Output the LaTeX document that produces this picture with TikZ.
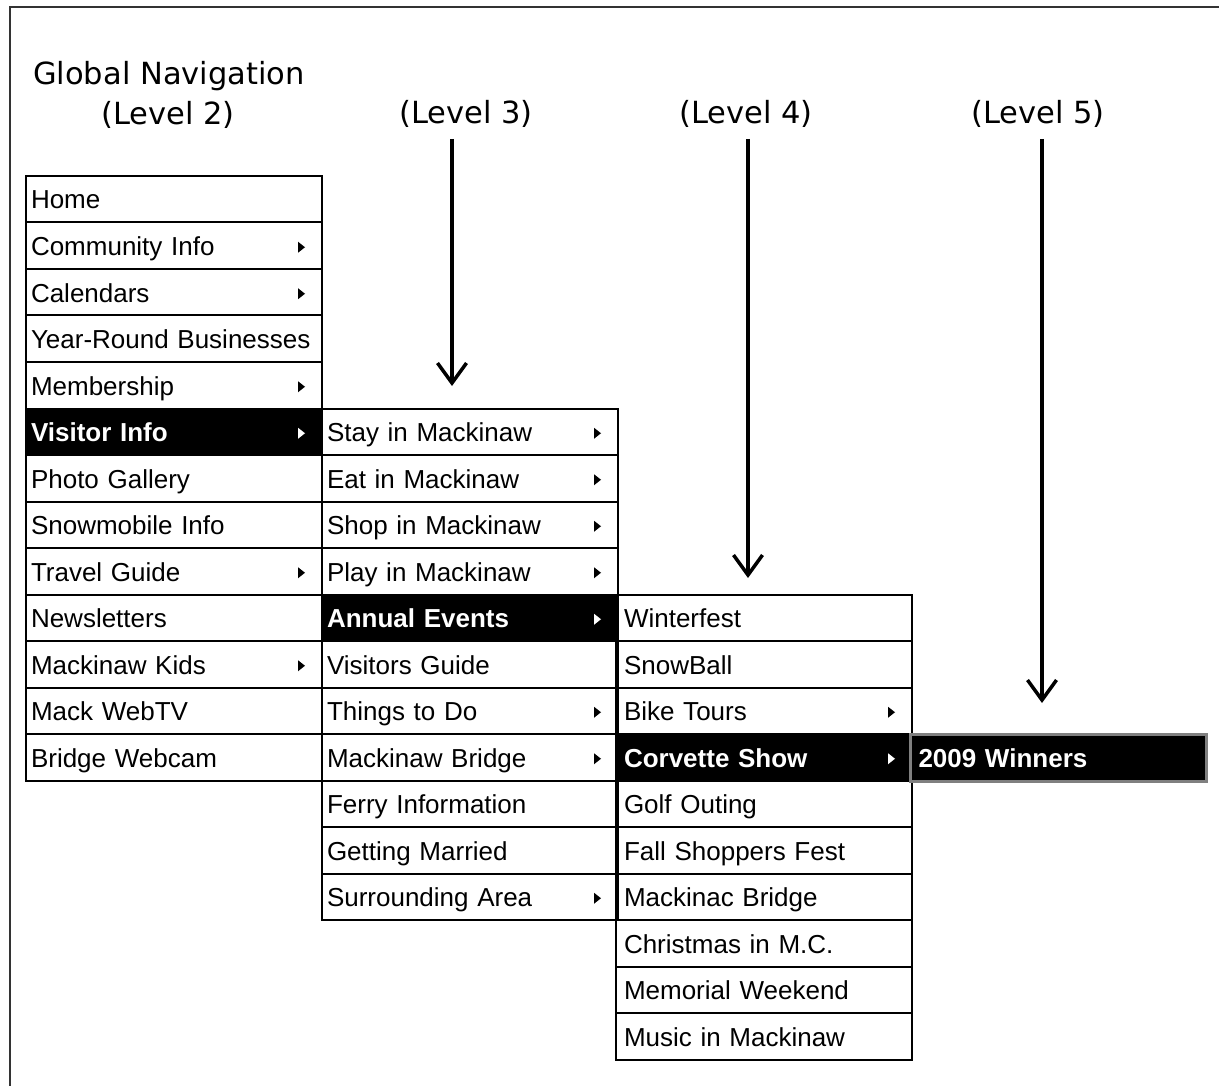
\documentclass[tikz,border=0pt]{standalone}
\usepackage{fontspec}
\setmainfont{Liberation Sans}
\newfontfamily\labfont{DejaVu Sans}
\usetikzlibrary{arrows.meta}
\begin{document}
\begin{tikzpicture}[x=1pt,y=-1pt,
  cell/.style={draw=black, line width=2pt, rectangle, anchor=north west,
    minimum width=296pt, minimum height=46.5pt, inner xsep=5pt, inner ysep=0pt,
    text width=286pt, align=left, text height=21pt, text depth=1.5pt,
    font=\fontsize{26}{30}\selectfont},
  cellc/.style={cell, inner xsep=8pt, text width=280pt},
  hot/.style={fill=black, text=white, font=\fontsize{26}{30}\selectfont\bfseries},
  lvl/.style={font=\labfont\fontsize{30.5}{36}\selectfont, inner sep=0pt, anchor=base},
  levarrow/.style={line width=4pt, -{Straight Barb[length=20pt,width=29pt,line width=3.5pt]}}
]
\useasboundingbox (0,0) rectangle (1219,1086);
\fill[white] (0,0) rectangle (1219,1086);
% frame
\draw[line width=1.5pt, black!80] (1219,7) -- (10,7) -- (10,1086);

% headings
\node[lvl, anchor=base west] (gn) at (33,85) {Global Navigation};
\node[lvl] (l2) at (168,125) {(Level 2)};
\node[lvl] (l3) at (466,124) {(Level 3)};
\node[lvl] (l4) at (746,124) {(Level 4)};
\node[lvl] (l5) at (1038,124) {(Level 5)};

% arrows
\coordinate (a3s) at (452,139); \coordinate (a3e) at (452,386);
\coordinate (a4s) at (748,139); \coordinate (a4e) at (748,578);
\coordinate (a5s) at (1042,139); \coordinate (a5e) at (1042,703);
\draw[levarrow] (a3s) -- (a3e);
\draw[levarrow] (a4s) -- (a4e);
\draw[levarrow] (a5s) -- (a5e);

% Level 2 column
\node[cell] (c1a) at (25,175.0) {Home};
\node[cell] (c1b) at (25,221.5) {Community Info};
\node[cell] (c1c) at (25,268.0) {Calendars};
\node[cell] (c1d) at (25,314.5) {Year-Round Businesses};
\node[cell] (c1e) at (25,361.0) {Membership};
\node[cell,hot] (c1f) at (25,407.5) {Visitor Info};
\node[cell] (c1g) at (25,454.0) {Photo Gallery};
\node[cell] (c1h) at (25,500.5) {Snowmobile Info};
\node[cell] (c1i) at (25,547.0) {Travel Guide};
\node[cell] (c1j) at (25,593.5) {Newsletters};
\node[cell] (c1k) at (25,640.0) {Mackinaw Kids};
\node[cell] (c1l) at (25,686.5) {Mack WebTV};
\node[cell] (c1m) at (25,733.0) {Bridge Webcam};

% Level 3 column
\node[cell] (c2a) at (321,407.5) {Stay in Mackinaw};
\node[cell] (c2b) at (321,454.0) {Eat in Mackinaw};
\node[cell] (c2c) at (321,500.5) {Shop in Mackinaw};
\node[cell] (c2d) at (321,547.0) {Play in Mackinaw};
\node[cell,hot] (c2e) at (321,593.5) {Annual Events};
\node[cell] (c2f) at (321,640.0) {Visitors Guide};
\node[cell] (c2g) at (321,686.5) {Things to Do};
\node[cell] (c2h) at (321,733.0) {Mackinaw Bridge};
\node[cell] (c2i) at (321,779.5) {Ferry Information};
\node[cell] (c2j) at (321,826.0) {Getting Married};
\node[cell] (c2k) at (321,872.5) {Surrounding Area};

% Level 4 column
\node[cellc] (c3a) at (615,593.5) {Winterfest};
\node[cellc] (c3b) at (615,640.0) {SnowBall};
\node[cellc] (c3c) at (615,686.5) {Bike Tours};
\node[cellc,hot] (c3d) at (615,733.0) {Corvette Show};
\node[cellc] (c3e) at (615,779.5) {Golf Outing};
\node[cellc] (c3f) at (615,826.0) {Fall Shoppers Fest};
\node[cellc] (c3g) at (615,872.5) {Mackinac Bridge};
\node[cellc] (c3h) at (615,919.0) {Christmas in M.C.};
\node[cellc] (c3i) at (615,965.5) {Memorial Weekend};
\node[cellc] (c3j) at (615,1012.0) {Music in Mackinaw};

% Level 5 column
\node[cellc,hot,draw=black!50,line width=3pt] (c4a) at (909,733.0) {2009 Winners};

% submenu indicators
\foreach \n/\c in {c1b/black,c1c/black,c1e/black,c1f/white,c1i/black,c1k/black,
                   c2a/black,c2b/black,c2c/black,c2d/black,c2e/white,c2g/black,c2h/black,c2k/black,
                   c3c/black,c3d/white}{
  \fill[\c] ([xshift=-25pt,yshift=4pt]\n.east) -- ++(7,5.5) -- ++(-7,5.5) -- cycle;
}
\end{tikzpicture}
\end{document}
